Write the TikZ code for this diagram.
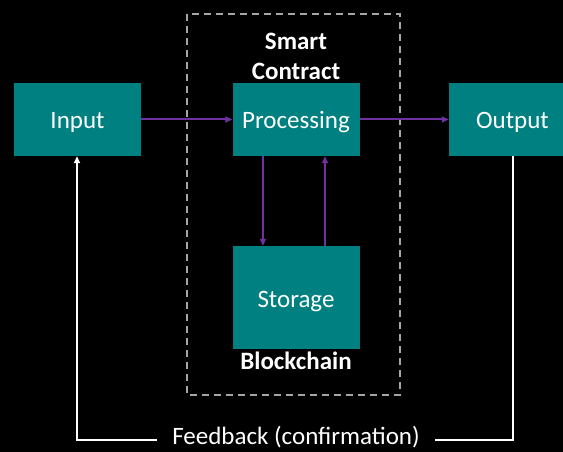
\documentclass[tikz,border=0pt]{standalone}
\usepackage{fontspec}
\setmainfont{Carlito}
\usetikzlibrary{arrows.meta}
\definecolor{boxteal}{HTML}{008080}
\definecolor{flowpurple}{HTML}{7030A0}
\definecolor{frame}{HTML}{A6A6A6}
\tikzset{
  block/.style={fill=boxteal, draw=none, text=white, minimum width=127pt, minimum height=73pt,
    inner sep=0pt, text height=17.6pt, text depth=0pt, font=\fontsize{25}{30}\selectfont},
  caption/.style={text=white, font=\bfseries\fontsize{25}{30}\selectfont, align=center, inner sep=0pt},
  flow/.style={draw=flowpurple, line width=2pt, -{Triangle[length=7pt,width=6pt]}},
  loop/.style={draw=white, line width=2pt},
}
\begin{document}
\begin{tikzpicture}[x=1pt, y=-1pt]
  % canvas
  \fill[black] (0,0) rectangle (563,452);
  \useasboundingbox (0,0) rectangle (563,452);

  % smart-contract boundary
  \draw[frame, line width=2pt, dash pattern=on 7pt off 5pt] (187,14) rectangle (400,395);

  % blocks
  \node[block] (input) at (77.5,119.5) {Input};
  \node[block] (proc) at (296,119.5) {Processing};
  \node[block] (output) at (512.5,119.5) {Output};
  \node[block, minimum height=103pt, text height=19.5pt] (store) at (296,297.5) {Storage};

  % captions
  \node[caption] (sc) at (296,56) {Smart\\Contract};
  \node[caption] (bc) at (296,361) {Blockchain};

  % main flow
  \draw[flow] (input.east) -- (proc.west);
  \draw[flow] (proc.east) -- (output.west);
  \draw[flow] (proc.south -| 263,0) -- (store.north -| 263,0);
  \draw[flow] (store.north -| 325,0) -- (proc.south -| 325,0);

  % feedback loop
  \node[text=white, font=\fontsize{25}{30}\selectfont, inner sep=0pt] (fb) at (296,437.5) {Feedback (confirmation)};
  \coordinate (fl) at (157,440);
  \coordinate (fr) at (435,440);
  \draw[loop] (output.south -| 513,0) |- (fr);
  \draw[loop, -{Triangle[length=7pt,width=6pt]}] (fl) -| (input.south -| 77,0);
\end{tikzpicture}
\end{document}
